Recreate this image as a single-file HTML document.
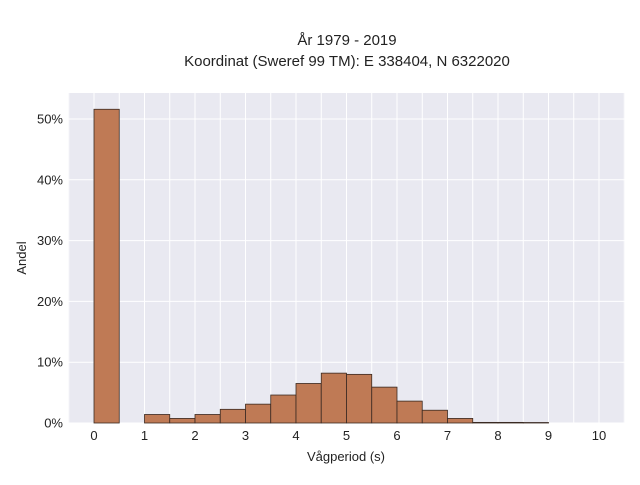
<!DOCTYPE html>
<html><head><meta charset="utf-8"><style>
body{margin:0;background:#fff;width:640px;height:480px;overflow:hidden}
svg text{font-family:"Liberation Sans",sans-serif;fill:#222}
</style></head><body>
<svg id="chart" width="640" height="480" xmlns="http://www.w3.org/2000/svg">
<text x="347" y="45" text-anchor="middle" font-size="15">År 1979 - 2019</text>
<text x="347" y="66" text-anchor="middle" font-size="15">Koordinat (Sweref 99 TM): E 338404, N 6322020</text>
<rect x="68" y="93" width="557" height="330" fill="#e9e9f1"/>
<g id="grid"></g>
<g id="bars"></g>
<g id="xticks"></g>
<g id="yticks"></g>
<text x="346" y="461" text-anchor="middle" font-size="13">Vågperiod (s)</text>
<text x="26" y="258" text-anchor="middle" font-size="13" transform="rotate(-90 26 258)">Andel</text>
</svg>
<script>
const binStarts=[0,0.5,1,1.5,2,2.5,3,3.5,4,4.5,5,5.5,6,6.5,7,7.5,8,8.5];
const shares=[51.6,0,1.4,0.75,1.4,2.25,3.1,4.6,6.5,8.2,8.0,5.9,3.6,2.1,0.75,0.1,0.1,0.08];
const xTickLabels=[0,1,2,3,4,5,6,7,8,9,10];
const yTickLabels=[0,10,20,30,40,50];
const binWidth=0.5;
const NS="http://www.w3.org/2000/svg";
const xs=v=>94+v*50.5;
const ys=v=>423-v*6.08;
function mk(tag,attrs,parent){const e=document.createElementNS(NS,tag);for(const k in attrs)e.setAttribute(k,attrs[k]);document.getElementById(parent).appendChild(e);return e;}
for(let v=-0.5;v<=10.5;v+=0.5){
  const l=mk('line',{x1:xs(v),x2:xs(v),y1:93,y2:423,stroke:'#fff','stroke-width':1},'grid');
  
  
}
yTickLabels.forEach(v=>{
  const l=mk('line',{x1:68,x2:625,y1:ys(v),y2:ys(v),stroke:'#fff','stroke-width':1},'grid');
  
  
  const t=mk('text',{x:63,y:ys(v)+4.5,'text-anchor':'end','font-size':13},'yticks');
  t.textContent=v+'%';
  
  
});
xTickLabels.forEach(v=>{
  const t=mk('text',{x:xs(v),y:440,'text-anchor':'middle','font-size':13},'xticks');
  t.textContent=v;
  
  
});
binStarts.forEach((b,i)=>{
  if(shares[i]<=0)return;
  const r=mk('rect',{x:xs(b),y:ys(shares[i]),width:xs(b+binWidth)-xs(b),height:ys(0)-ys(shares[i]),fill:'#bf7a55',stroke:'#3a2a22','stroke-width':0.8},'bars');
  
  
});
</script>
</body></html>
